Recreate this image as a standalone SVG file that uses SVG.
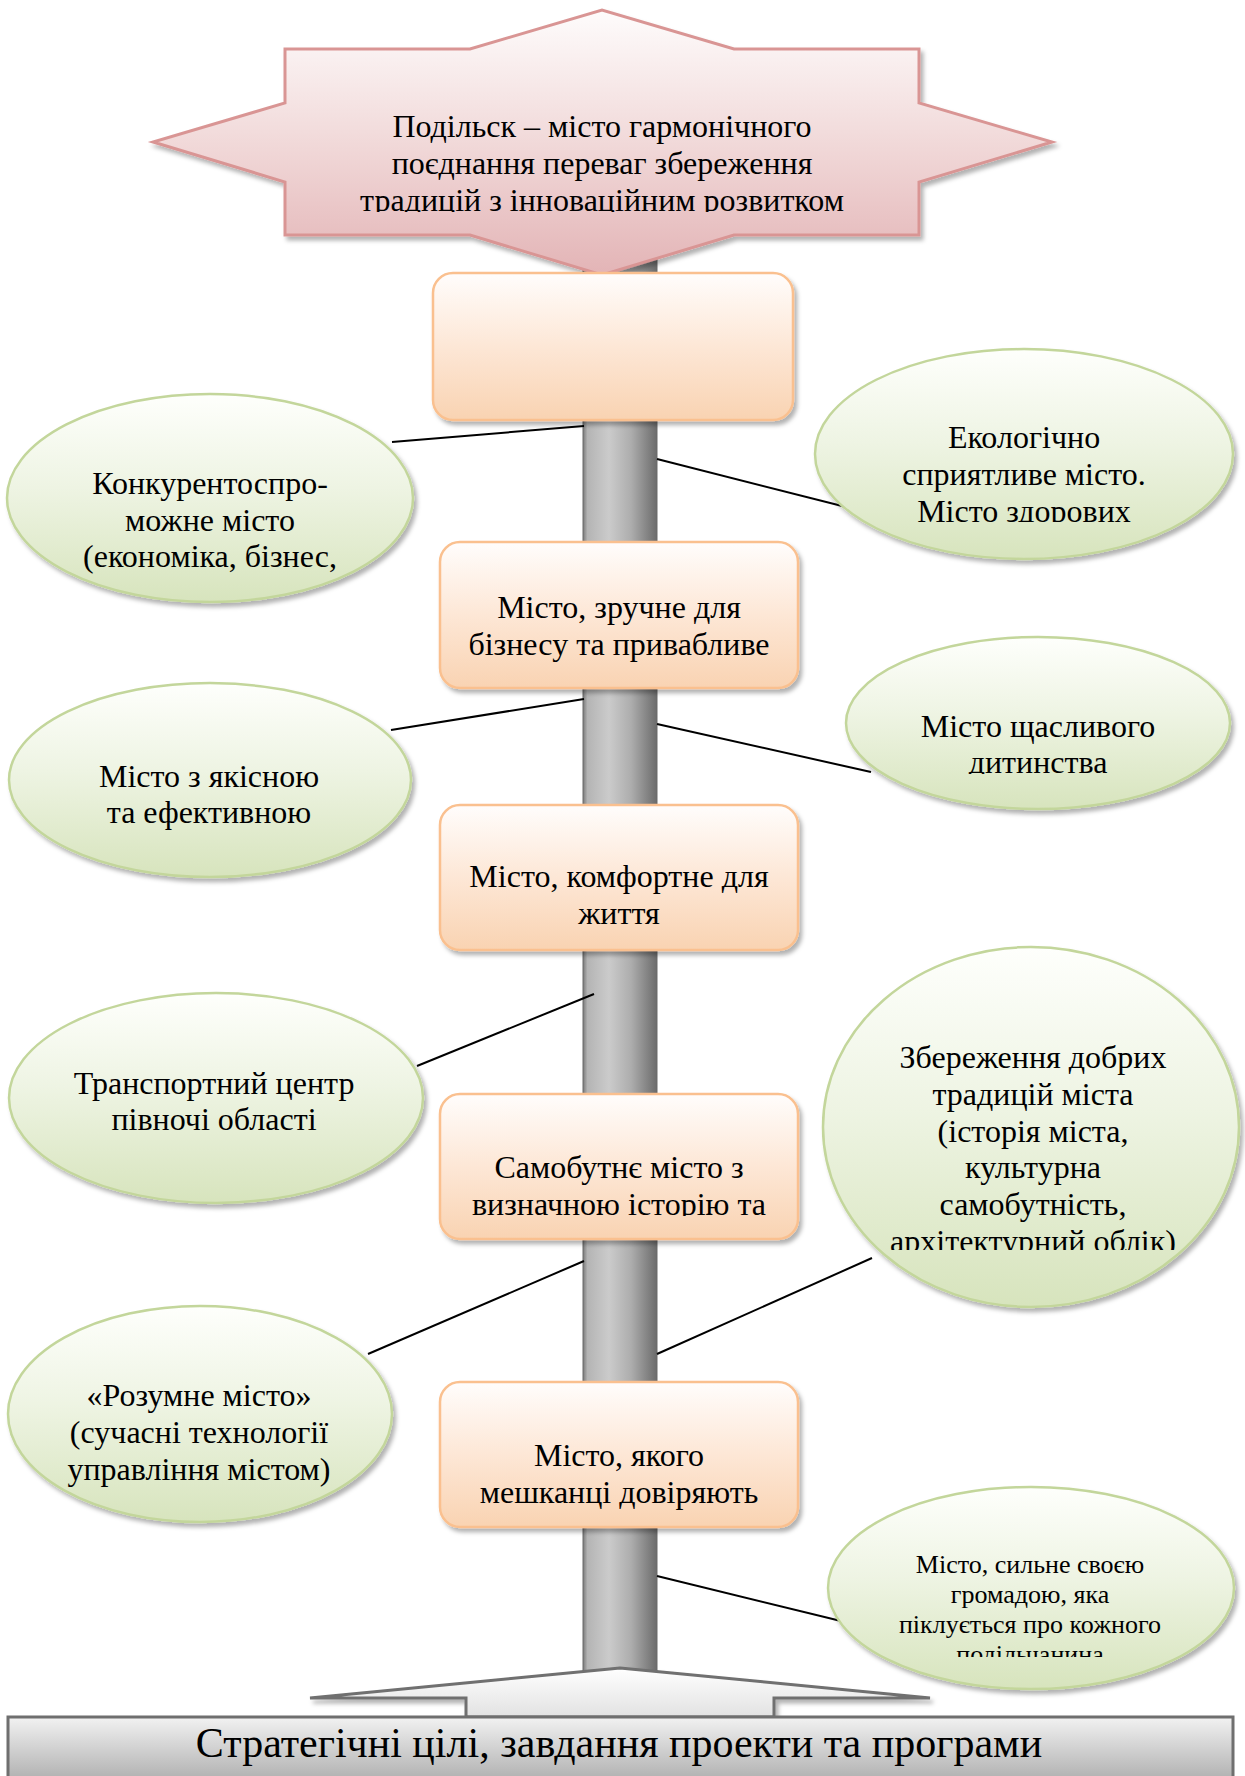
<svg xmlns="http://www.w3.org/2000/svg" width="1245" height="1776" viewBox="0 0 1245 1776">
<defs>
<style>
text{font-family:"Liberation Serif","Times New Roman",serif;fill:#000;text-anchor:middle}
.t{font-size:32px}
.s{font-size:26px}
.b{font-size:42px}
.box{fill:url(#gBox);stroke:#fac08f;stroke-width:2.5;filter:url(#sh)}
.ell{fill:url(#gEll);stroke:#c3d69b;stroke-width:2.5;filter:url(#sh)}
.con{stroke:#000;stroke-width:2;fill:none}
</style>
<linearGradient id="gBox" x1="0" y1="0" x2="0" y2="1">
<stop offset="0" stop-color="#fffdfc"/><stop offset="0.5" stop-color="#fde7d6"/><stop offset="1" stop-color="#f9d3b2"/>
</linearGradient>
<linearGradient id="gEll" x1="0" y1="0" x2="0" y2="1">
<stop offset="0" stop-color="#fefffc"/><stop offset="0.45" stop-color="#eef4e3"/><stop offset="1" stop-color="#d7e4bd"/>
</linearGradient>
<linearGradient id="gStar" x1="0" y1="0" x2="0" y2="1">
<stop offset="0" stop-color="#fefcfc"/><stop offset="0.5" stop-color="#f1d9d9"/><stop offset="1" stop-color="#e3b4b6"/>
</linearGradient>
<linearGradient id="gPole" x1="0" y1="0" x2="1" y2="0">
<stop offset="0" stop-color="#7a7a7a"/><stop offset="0.06" stop-color="#b4b4b4"/><stop offset="0.35" stop-color="#cbcbcb"/><stop offset="0.65" stop-color="#adadad"/><stop offset="1" stop-color="#6b6b6b"/>
</linearGradient>
<linearGradient id="gArrow" x1="0" y1="0" x2="0" y2="1">
<stop offset="0" stop-color="#ffffff"/><stop offset="1" stop-color="#e2e2e2"/>
</linearGradient>
<linearGradient id="gBase" x1="0" y1="0" x2="0" y2="1">
<stop offset="0" stop-color="#f2f2f2"/><stop offset="1" stop-color="#a9a9a9"/>
</linearGradient>
<filter id="sh" x="-10%" y="-10%" width="125%" height="130%">
<feDropShadow dx="3" dy="4" stdDeviation="2" flood-color="#000" flood-opacity="0.3"/>
</filter>
<clipPath id="cStar"><rect x="150" y="0" width="910" height="212"/></clipPath>
<clipPath id="cE1"><rect x="0" y="390" width="420" height="185"/></clipPath>
<clipPath id="cE2"><rect x="800" y="340" width="445" height="182"/></clipPath>
<clipPath id="cE4"><rect x="840" y="630" width="405" height="144"/></clipPath>
<clipPath id="cB4"><rect x="430" y="1090" width="380" height="126"/></clipPath>
<clipPath id="cE6"><rect x="810" y="940" width="435" height="310"/></clipPath>
<clipPath id="cE8"><rect x="820" y="1480" width="425" height="177"/></clipPath>
</defs>

<rect id="pole" x="583" y="250" width="74" height="1422" fill="url(#gPole)" stroke="#6b6b6b" stroke-width="1"/>

<g id="connectors" class="con">
<line x1="392" y1="442" x2="584" y2="426"/>
<line x1="657" y1="459" x2="846" y2="507"/>
<line x1="391" y1="730" x2="584" y2="699"/>
<line x1="657" y1="724" x2="871" y2="772"/>
<line x1="417" y1="1066" x2="594" y2="994"/>
<line x1="368" y1="1354" x2="584" y2="1261"/>
<line x1="657" y1="1354" x2="872" y2="1258"/>
<line x1="657" y1="1576" x2="845" y2="1622"/>
</g>

<g id="title">
<polygon points="285,49 470,49 602,10 734,49 919,49 919,103 1052,142 919,182 919,235 734,235 602,275 470,235 285,235 285,182 153,142 285,103" fill="url(#gStar)" stroke="#d99594" stroke-width="3" filter="url(#sh)"/>
<g clip-path="url(#cStar)" class="t">
<text x="602" y="137">Подільск – місто гармонічного</text>
<text x="602" y="174">поєднання переваг збереження</text>
<text x="602" y="211">традицій з інноваційним розвитком</text>
</g>
</g>

<g id="box1"><rect class="box" x="433" y="273" width="360" height="147" rx="20"/></g>

<g id="box2"><rect class="box" x="440" y="542" width="358" height="146" rx="20"/>
<text class="t" x="619" y="618">Місто, зручне для</text>
<text class="t" x="619" y="655">бізнесу та привабливе</text>
</g>

<g id="box3"><rect class="box" x="440" y="805" width="358" height="145" rx="20"/>
<text class="t" x="619" y="887">Місто, комфортне для</text>
<text class="t" x="619" y="924">життя</text>
</g>

<g id="box4"><rect class="box" x="440" y="1094" width="358" height="145" rx="20"/>
<g clip-path="url(#cB4)">
<text class="t" x="619" y="1178">Самобутнє місто з</text>
<text class="t" x="619" y="1215">визначною історію та</text>
</g>
</g>

<g id="box5"><rect class="box" x="440" y="1382" width="358" height="145" rx="20"/>
<text class="t" x="619" y="1466">Місто, якого</text>
<text class="t" x="619" y="1503">мешканці довіряють</text>
</g>

<g id="e1"><ellipse class="ell" cx="210" cy="498" rx="203" ry="104"/>
<g clip-path="url(#cE1)" class="t">
<text x="210" y="494">Конкурентоспро-</text>
<text x="210" y="531">можне місто</text>
<text x="210" y="567">(економіка, бізнес,</text>
</g>
</g>

<g id="e2"><ellipse class="ell" cx="1024" cy="454" rx="209" ry="105"/>
<g clip-path="url(#cE2)" class="t">
<text x="1024" y="448">Екологічно</text>
<text x="1024" y="485">сприятливе місто.</text>
<text x="1024" y="522">Місто здорових</text>
</g>
</g>

<g id="e3"><ellipse class="ell" cx="210" cy="780" rx="201" ry="97"/>
<text class="t" x="209" y="787">Місто з якісною</text>
<text class="t" x="209" y="823">та ефективною</text>
</g>

<g id="e4"><ellipse class="ell" cx="1038" cy="723" rx="192" ry="86"/>
<g clip-path="url(#cE4)" class="t">
<text x="1038" y="737">Місто щасливого</text>
<text x="1038" y="773">дитинства</text>
</g>
</g>

<g id="e5"><ellipse class="ell" cx="216" cy="1098" rx="207" ry="105"/>
<text class="t" x="214" y="1094">Транспортний центр</text>
<text class="t" x="214" y="1130">півночі області</text>
</g>

<g id="e6"><ellipse class="ell" cx="1031" cy="1127" rx="208" ry="180"/>
<g clip-path="url(#cE6)" class="t">
<text x="1033" y="1068">Збереження добрих</text>
<text x="1033" y="1105">традицій міста</text>
<text x="1033" y="1142">(історія міста,</text>
<text x="1033" y="1178">культурна</text>
<text x="1033" y="1215">самобутність,</text>
<text x="1033" y="1252">архітектурний облік)</text>
</g>
</g>

<g id="e7"><ellipse class="ell" cx="200" cy="1414" rx="192" ry="108"/>
<text class="t" x="199" y="1406">«Розумне місто»</text>
<text class="t" x="199" y="1443">(сучасні технології</text>
<text class="t" x="199" y="1480">управління містом)</text>
</g>

<g id="e8"><ellipse class="ell" cx="1031" cy="1588" rx="203" ry="101"/>
<g clip-path="url(#cE8)" class="s">
<text x="1030" y="1573">Місто, сильне своєю</text>
<text x="1030" y="1603">громадою, яка</text>
<text x="1030" y="1633">піклується про кожного</text>
<text x="1030" y="1663">подільчанина</text>
</g>
</g>

<g id="base">
<polygon points="620,1668 930,1698 774,1698 774,1717 466,1717 466,1698 310,1698" fill="url(#gArrow)" stroke="#6f6f6f" stroke-width="3" filter="url(#sh)"/>
<rect x="8" y="1717" width="1225" height="70" fill="url(#gBase)" stroke="#6f6f6f" stroke-width="3"/>
<text class="b" x="619" y="1757">Стратегічні цілі, завдання проекти та програми</text>
</g>
</svg>
